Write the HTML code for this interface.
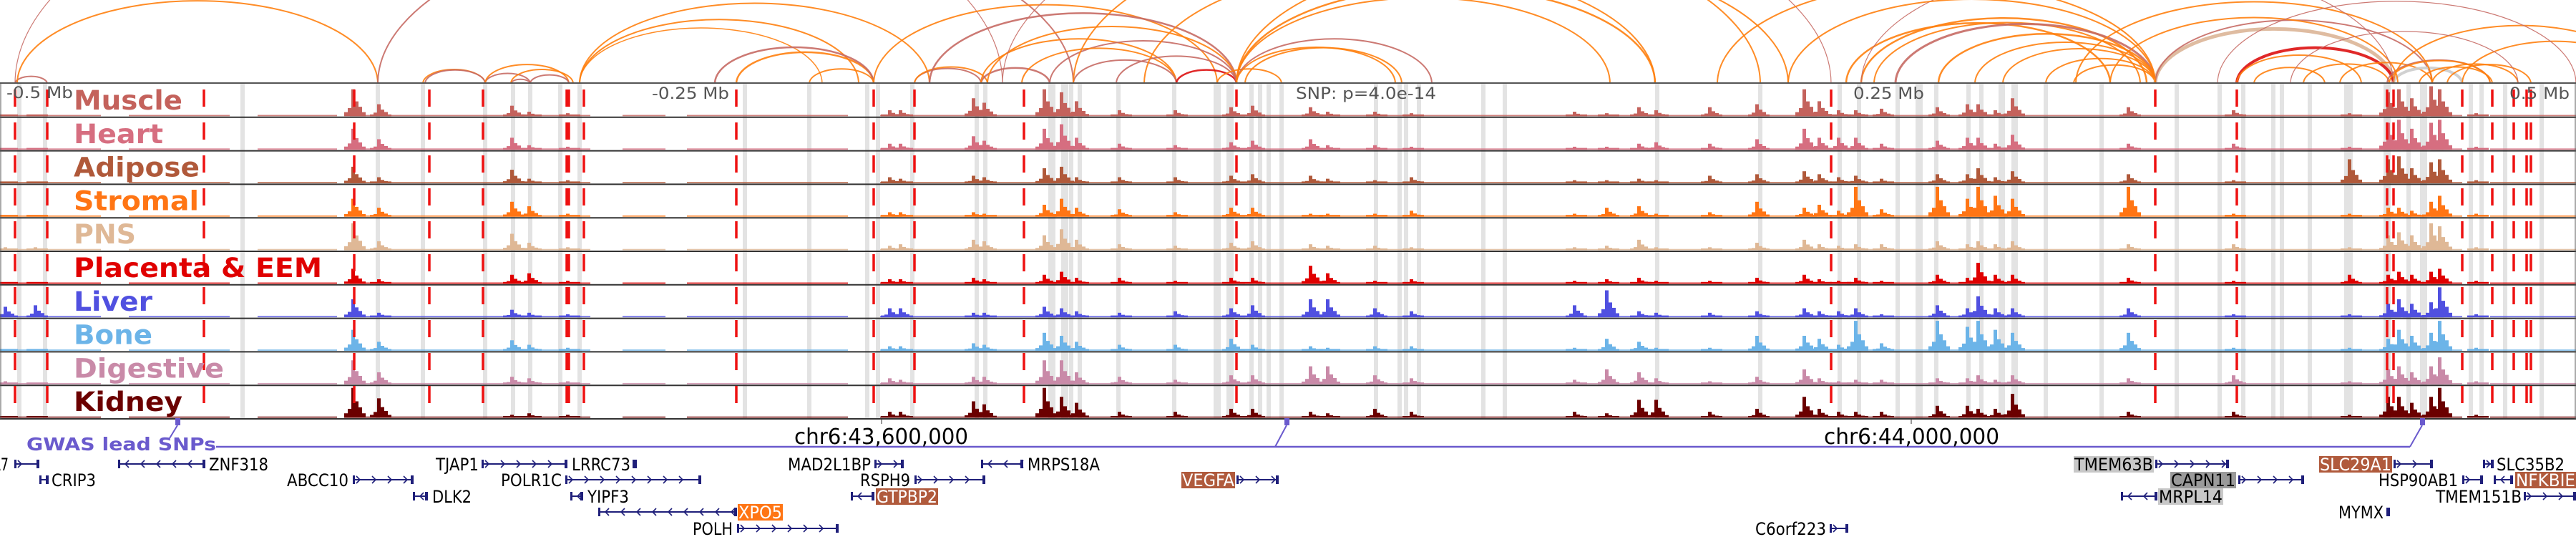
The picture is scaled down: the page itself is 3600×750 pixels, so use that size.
<!DOCTYPE html>
<html><head><meta charset="utf-8"><title>Regulatory tracks chr6</title>
<style>
html,body{margin:0;padding:0;background:#fff;}
svg{display:block;}
</style></head>
<body>
<svg id="chart" xmlns="http://www.w3.org/2000/svg" width="3600" height="750" viewBox="0 0 3600 750">
<g id="bands"></g>
<g id="arcs"></g>
<g id="tracks"></g>
<g id="redlines"></g>
<g id="labels"></g>
<g id="axis">
  <text x="9" y="137" font-family="DejaVu Sans Condensed, DejaVu Sans, sans-serif" font-size="22" fill="#555" textLength="93" lengthAdjust="spacingAndGlyphs">-0.5 Mb</text>
  <text x="911" y="138" font-family="DejaVu Sans Condensed, DejaVu Sans, sans-serif" font-size="22" fill="#555" textLength="108" lengthAdjust="spacingAndGlyphs">-0.25 Mb</text>
  <text x="1811" y="138" font-family="DejaVu Sans Condensed, DejaVu Sans, sans-serif" font-size="22" fill="#555" textLength="196" lengthAdjust="spacingAndGlyphs">SNP: p=4.0e-14</text>
  <text x="2590" y="138" font-family="DejaVu Sans Condensed, DejaVu Sans, sans-serif" font-size="22" fill="#555" textLength="99" lengthAdjust="spacingAndGlyphs">0.25 Mb</text>
  <text x="3507" y="138" font-family="DejaVu Sans Condensed, DejaVu Sans, sans-serif" font-size="22" fill="#555" textLength="84" lengthAdjust="spacingAndGlyphs">0.5 Mb</text>
</g>
<g id="gwas">
  <text x="37" y="629" font-family="DejaVu Sans, sans-serif" font-weight="bold" font-size="25" fill="#6a5acd" textLength="265" lengthAdjust="spacingAndGlyphs">GWAS lead SNPs</text>
  <line x1="302" y1="624" x2="3368" y2="624" stroke="#6a5acd" stroke-width="2.5"/>
  <path d="M237 612 L248 594 M1782 624 L1798 594 M3368 624 L3385 594" stroke="#6a5acd" stroke-width="2" fill="none"/>
  <rect x="245" y="584" width="7" height="10" fill="#6a5acd"/>
  <rect x="1795" y="584" width="7" height="10" fill="#6a5acd"/>
  <rect x="3382" y="584" width="7" height="10" fill="#6a5acd"/>
  <line x1="1232" y1="585" x2="1232" y2="592" stroke="#333" stroke-width="1"/>
  <line x1="2671" y1="585" x2="2671" y2="592" stroke="#333" stroke-width="1"/>
  <text x="1110" y="620" font-family="DejaVu Sans Condensed, DejaVu Sans, sans-serif" font-size="30" fill="#000" textLength="243" lengthAdjust="spacingAndGlyphs">chr6:43,600,000</text>
  <text x="2549" y="620" font-family="DejaVu Sans Condensed, DejaVu Sans, sans-serif" font-size="30" fill="#000" textLength="245" lengthAdjust="spacingAndGlyphs">chr6:44,000,000</text>
</g>
<g id="genes"></g>
</svg>
<script>
// ---------- data ----------
const trackNames = ["Muscle","Heart","Adipose","Stromal","PNS","Placenta & EEM","Liver","Bone","Digestive","Kidney"];
const trackColors = ["#c4625c","#d66e80","#b0593a","#ff7514","#dfb896","#e00000","#5050e0","#6cb4e8","#c98aa8","#6b0000"];
const labelWidths = [152,125,176,175,87,347,110,110,210,152];
// peak positions in kb from window start (1 kb = 3 px)
const peakPos = [3,17,165,177,239,247,265,415,420,454,459,487,495,502,522,548,574,584,611,619,641,658,734,749,764,772,797,819,841,848,857,865,877,903,917,922,930,938,992,1041,1095,1113,1118,1124,1133,1137,1154];
const hMuscle   = [0.05,0.05,0.9,0.4,0.35,0.15,0.1,0.2,0.2,0.6,0.45,0.9,0.8,0.5,0.2,0.2,0.3,0.35,0.3,0.15,0.15,0.1,0.15,0.1,0.3,0.2,0.3,0.4,0.9,0.5,0.2,0.2,0.25,0.3,0.4,0.4,0.2,0.6,0.3,0.2,0.1,0.8,0.9,0.6,1.0,0.9,0.1];
const hHeart    = [0.05,0.05,0.7,0.35,0.4,0.15,0.1,0.2,0.2,0.45,0.3,0.7,0.85,0.4,0.2,0.15,0.25,0.3,0.35,0.15,0.15,0.1,0.1,0.1,0.2,0.25,0.2,0.35,0.7,0.4,0.4,0.4,0.2,0.3,0.4,0.4,0.2,0.5,0.2,0.2,0.1,0.9,1.0,0.7,0.9,1.0,0.1];
const hAdipose  = [0.05,0.05,0.55,0.2,0.45,0.15,0.1,0.2,0.15,0.25,0.2,0.5,0.55,0.2,0.2,0.2,0.25,0.3,0.25,0.15,0.1,0.2,0.1,0.1,0.15,0.1,0.25,0.3,0.4,0.3,0.2,0.25,0.15,0.3,0.3,0.5,0.2,0.4,0.3,0.1,0.8,0.8,0.9,0.5,0.7,0.8,0.1];
const hStromal  = [0.05,0.05,0.6,0.3,0.5,0.35,0.1,0.15,0.15,0.15,0.1,0.4,0.6,0.3,0.25,0.15,0.3,0.3,0.1,0.1,0.1,0.2,0.1,0.3,0.35,0.1,0.15,0.5,0.3,0.4,0.2,1.0,0.25,1.0,0.6,1.0,0.7,0.6,1.0,0.1,0.1,0.3,0.3,0.2,0.5,0.7,0.1];
const hPNS      = [0.1,0.1,0.9,0.3,0.55,0.25,0.1,0.15,0.2,0.35,0.3,0.5,0.7,0.35,0.2,0.15,0.25,0.3,0.2,0.15,0.15,0.1,0.1,0.15,0.35,0.1,0.1,0.25,0.35,0.2,0.15,0.2,0.2,0.3,0.2,0.3,0.2,0.3,0.2,0.2,0.1,0.5,0.6,0.5,0.9,0.8,0.1];
const hPlacenta = [0.05,0.05,0.5,0.15,0.3,0.35,0.1,0.15,0.15,0.2,0.15,0.3,0.4,0.2,0.2,0.1,0.2,0.2,0.6,0.35,0.1,0.15,0.1,0.15,0.2,0.1,0.1,0.2,0.3,0.15,0.1,0.2,0.1,0.3,0.2,0.7,0.3,0.3,0.2,0.1,0.3,0.3,0.4,0.3,0.4,0.5,0.1];
const hLiver    = [0.35,0.4,0.6,0.15,0.25,0.15,0.1,0.3,0.3,0.15,0.15,0.35,0.3,0.2,0.15,0.2,0.3,0.4,0.6,0.6,0.3,0.2,0.4,0.9,0.2,0.15,0.15,0.2,0.3,0.2,0.2,0.3,0.1,0.4,0.3,0.7,0.3,0.3,0.3,0.1,0.1,0.45,0.6,0.45,0.5,1.0,0.1];
const hBone     = [0.05,0.05,0.7,0.3,0.35,0.2,0.1,0.15,0.15,0.25,0.2,0.6,0.5,0.3,0.2,0.2,0.4,0.2,0.15,0.1,0.15,0.15,0.1,0.4,0.3,0.1,0.1,0.5,0.5,0.4,0.2,1.0,0.25,1.0,0.8,1.0,0.7,0.6,0.6,0.1,0.1,0.4,0.7,0.5,0.6,1.0,0.1];
const hDigest   = [0.1,0.05,0.8,0.4,0.25,0.2,0.1,0.2,0.15,0.25,0.25,0.8,0.8,0.4,0.25,0.15,0.3,0.3,0.6,0.6,0.3,0.2,0.15,0.5,0.4,0.2,0.1,0.25,0.5,0.2,0.1,0.15,0.15,0.2,0.2,0.3,0.15,0.3,0.2,0.3,0.1,0.5,0.6,0.4,0.6,0.9,0.1];
const hKidney   = [0.05,0.05,1.0,0.65,0.1,0.15,0.1,0.2,0.2,0.55,0.45,1.0,0.7,0.5,0.2,0.2,0.3,0.3,0.2,0.15,0.3,0.2,0.2,0.15,0.6,0.6,0.2,0.3,0.7,0.3,0.2,0.2,0.2,0.4,0.4,0.3,0.3,0.8,0.2,0.2,0.1,0.7,0.7,0.5,0.7,1.0,0.1];
const trackHeights = [hMuscle,hHeart,hAdipose,hStromal,hPNS,hPlacenta,hLiver,hBone,hDigest,hKidney];
const baseRanges = [[0,47],[60,107],[120,157],[163,275],[290,310],[320,395],[410,580],[585,1147],[1160,1200]];
const variantPos = [7,22,95,165,200,225,264,265,272,343,407,426,477,576,853,1004,1042,1112,1115,1147,1161,1171,1177,1179];
const bandPos = [9,21,113,176,197,226,239,247,261,270,347,377,404,409,425,455,459,490,496,499,503,521,547,567,573,583,587,591,597,641,652,655,661,691,701,772,820,857,866,884,894,902,917,923,932,933,938,939,953,979,1014,1034,1045,1059,1063,1076,1093,1095,1112,1122,1129,1151,1156,1167,1184];
const bandWide = [0,0,0,0,0,0,0,0,0,0,0,0,0,0,0,0,0,1,1,0,0,0,0,1,1,0,0,0,0,0,0,0,0,0,0,0,0,0,0,0,1,0,0,0,0,0,0,0,0,0,0,0,0,0,0,0,0,0,1,0,1,0,0,0,0];
const arcStart = [7,7,8,176,197,198,226,226,238,247,238,270,270,270,343,333,377,407,426,426,433,457,460,457,489,476,500,548,520,567,576,576,576,580,576,576,533,500,467,860,867,873,883,903,920,933,953,966,1004,1004,1042,1042,1050,1073,1090,1115,1112,1113,1127,1133,1140,1115,1147,967,983,867,833,800,1033,1067];
const arcEnd   = [22,467,176,500,226,226,247,265,247,265,267,433,400,383,407,407,407,567,457,460,576,489,576,548,576,548,548,576,576,597,771,667,650,653,750,833,771,820,853,983,1000,997,1004,1004,1004,1004,1004,1004,1115,1133,1115,1100,1083,1113,1133,1147,1160,1160,1161,1173,1179,1233,1233,1133,1117,1115,1004,1004,1200,1173];
const arcColor = ["M","M","O","M","O","M","M","O","M","M","O","O","O","O","O","M","O","O","M","O","M","M","O","O","M","O","M","R","M","O","O","M","O","O","O","O","O","O","M","O","O","O","M","O","O","O","O","O","P","M","R","O","O","O","O","G","M","O","O","O","O","O","O","O","O","M","O","O","M","M"];
const arcWidth = [2,1.2,2,2,2,2,2,2,2,2,2,2,2,1.5,2.5,2.5,2,2,2,2,2.5,2.5,2,2,2,2,2,2.5,2,2,2.5,2,2,2,2,2,2,2,1.2,2.5,2.5,2,3,2.5,2,2,2,2,5,2,4,2,2,2,2,4,2,2,2,2,2,2,2,2,2,1.2,2,2,1.2,1.2];
const genesRow = [0,0,0,0,0,0,0,0,0, 1,1,1,1,1,1,1,1, 2,2,2,2,2, 3,3, 4,4];
const geneNames = ["A7","ZNF318","TJAP1","LRRC73","MAD2L1BP","MRPS18A","TMEM63B","SLC29A1","SLC35B2","CRIP3","ABCC10","POLR1C","RSPH9","VEGFA","CAPN11","HSP90AB1","NFKBIE","DLK2","YIPF3","GTPBP2","MRPL14","TMEM151B","XPO5","MYMX","POLH","C6orf223"];
const geneLabelStart = [-12,291,608,798,1100,1435,2898,3241,3488,71,400,699,1201,1651,3033,3323,3515,603,820,1224,3016,3403,1031,3267,967,2452];
const geneLabelEnd   = [13,376,670,882,1218,1538,3010,3343,3585,135,488,786,1273,1726,3125,3436,3600,660,880,1311,3107,3525,1094,3332,1025,2553];
const geneStart = [20,165,673,884,1222,1371,3012,3345,3470,55,493,790,1278,1728,3128,3441,3485,577,797,1189,2964,3527,836,3335,1030,2557];
const geneEnd   = [55,287,793,890,1263,1430,3115,3400,3485,68,578,980,1377,1787,3220,3470,3512,598,815,1222,3015,3600,1030,3340,1172,2583];
const geneDir   = [1,-1,1,1,1,-1,1,1,1,-1,1,1,1,1,1,1,-1,-1,-1,-1,-1,1,-1,1,1,1];
const geneBg    = ["","","","","","","#c8c8c8","#b05a3c","","","","","","#b05a3c","#9a9a9a","","#b05a3c","","","#b05a3c","#c8c8c8","","#ff7514","","",""];

// ---------- scales ----------
const KB_MAX = 1200, W = 3600;
const x = kb => kb / KB_MAX * W;
const TOP = 117, ROWH = 46.8, BOTTOM = TOP + ROWH * 10;
const NS = "http://www.w3.org/2000/svg";
function mk(tag, attrs, parent){const e=document.createElementNS(NS,tag);for(const k in attrs)e.setAttribute(k,attrs[k]);parent.appendChild(e);return e;}
const arcPalette = {O:"#ff7f0e",M:"#c66a64",P:"#dcb597",R:"#dd1111",G:"#cccccc"};

// bands
const gB = document.getElementById('bands');
bandPos.forEach((p,i)=>{
  const w = bandWide[i] ? 10 : 6;
  const r = mk('rect',{x:x(p)-w/2,y:TOP,width:w,height:BOTTOM-TOP,fill:"#e3e3e3"},gB);
  
  
});

// arcs
const gA = document.getElementById('arcs');
const clip = mk('clipPath',{id:'arcclip'},gA);
mk('rect',{x:0,y:0,width:W,height:TOP},clip);
const gA2 = mk('g',{'clip-path':'url(#arcclip)'},gA);
arcStart.forEach((s,i)=>{
  const x1=x(s), x2=x(arcEnd[i]); const rx=(x2-x1)/2, ry=0.23*(x2-x1);
  const p = mk('path',{d:`M${x1} ${TOP} A${rx} ${ry} 0 0 1 ${x2} ${TOP}`,fill:"none",stroke:arcPalette[arcColor[i]],'stroke-width':arcWidth[i],opacity:0.9},gA2);
  
  
});

// tracks
const gT = document.getElementById('tracks');
trackNames.forEach((name,t)=>{
  const top = TOP + t*ROWH, base = top + ROWH - 1.5, maxH = ROWH - 5;
  const g = mk('g',{},gT);
  
  
  const col = trackColors[t];
  baseRanges.forEach(r=>{
    mk('rect',{x:x(r[0]),y:base-1.8,width:x(r[1])-x(r[0]),height:1.8,fill:col,opacity:0.8},g);
  });
  peakPos.forEach((p,i)=>{
    const h = trackHeights[t][i]*maxH, cx = x(p);
    const parts = [[-14,0.15],[-9,0.3],[-4,1],[1,0.55],[6,0.35],[11,0.15]];
    parts.forEach(q=>{
      const hh = Math.max(2.5,h*q[1]);
      const b = mk('rect',{x:cx+q[0],y:base-hh,width:5,height:hh,fill:col},g);
      if(q[1]===1){
        
        
      }
    });
  });
  mk('line',{x1:0,y1:top+ROWH,x2:W,y2:top+ROWH,stroke:"#333",'stroke-width':2},g);
});
mk('line',{x1:0,y1:TOP-1,x2:W,y2:TOP-1,stroke:"#555",'stroke-width':2},gT);
mk('line',{x1:1,y1:TOP,x2:1,y2:BOTTOM,stroke:"#555",'stroke-width':1},gT);
mk('line',{x1:W-1,y1:TOP,x2:W-1,y2:BOTTOM,stroke:"#555",'stroke-width':1},gT);

// red dashed variant lines
const gR = document.getElementById('redlines');
variantPos.forEach(p=>{
  const l = mk('line',{x1:x(p),y1:TOP,x2:x(p),y2:BOTTOM,stroke:"#ee1111",'stroke-width':3.5,'stroke-dasharray':"24 22",'stroke-dashoffset':"-8"},gR);
  
  
});

// labels
const gL = document.getElementById('labels');
trackNames.forEach((name,t)=>{
  const tx = mk('text',{x:103,y:TOP+t*ROWH+36,'font-family':"DejaVu Sans, sans-serif",'font-weight':'bold','font-size':37,fill:trackColors[t],textLength:labelWidths[t],lengthAdjust:'spacingAndGlyphs'},gL);
  tx.textContent = name;
  
  
});

// genes
const gG = document.getElementById('genes');
const rowY = [648,670,693,715,738];
geneNames.forEach((n,i)=>{
  const cy = rowY[genesRow[i]];
  const g = mk('g',{},gG);
  
  
  const lx1=geneLabelStart[i], lx2=geneLabelEnd[i];
  if(geneBg[i]) mk('rect',{x:lx1,y:cy-11,width:lx2-lx1,height:23,fill:geneBg[i]},g);
  const t = mk('text',{x:lx1+1,y:cy+9,'font-family':"DejaVu Sans Condensed, Liberation Sans, sans-serif",'font-size':24,fill:(geneBg[i]&&geneBg[i]!=="#c8c8c8"&&geneBg[i]!=="#9a9a9a")?"#fff":"#000",textLength:lx2-lx1-2,lengthAdjust:'spacingAndGlyphs'},g);
  t.textContent = n;
  const s=geneStart[i], e=geneEnd[i];
  mk('line',{x1:s,y1:cy,x2:e,y2:cy,stroke:"#1f1f7a",'stroke-width':2},g);
  const d = geneDir[i];
  let path='';
  for(let ax=s+10; ax<e-4; ax+=22){ path += `M${ax-5*d} ${cy-5} L${ax} ${cy} L${ax-5*d} ${cy+5} `; }
  mk('path',{d:path,stroke:"#1f1f7a",'stroke-width':1.6,fill:'none'},g);
  mk('rect',{x:s,y:cy-6,width:3,height:12,fill:"#1f1f7a"},g);
  mk('rect',{x:e-4,y:cy-6,width:4,height:12,fill:"#1f1f7a"},g);
});
</script>
</body></html>
